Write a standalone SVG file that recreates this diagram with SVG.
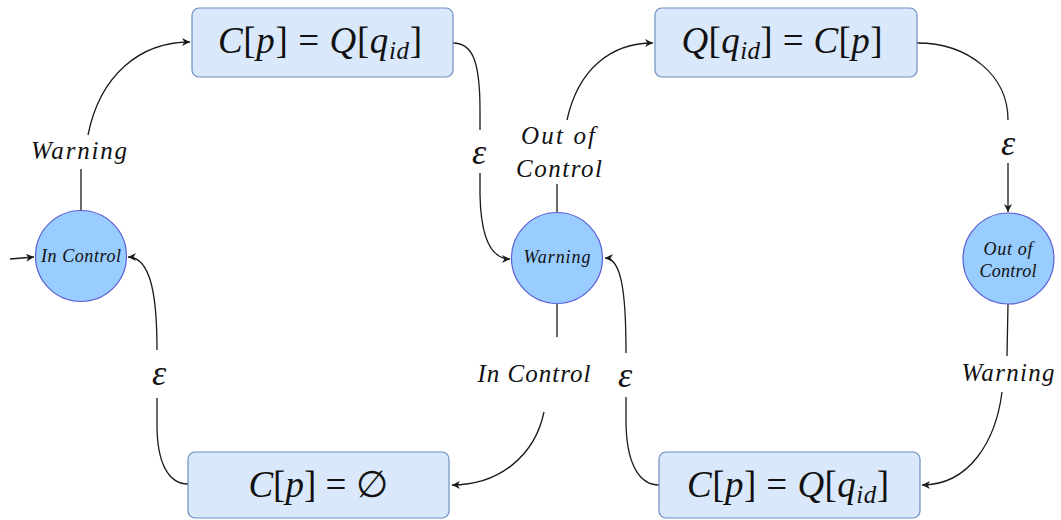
<svg xmlns="http://www.w3.org/2000/svg" width="1061" height="520" viewBox="0 0 1061 520">
<style>
.box{fill:#dae8fc;stroke:#6c8ebf;stroke-width:1.2}
.st{fill:#99ccff;stroke:#5b5fd6;stroke-width:1.2}
.edge{fill:none;stroke:#1a1a1a;stroke-width:1.3;marker-end:url(#arr)}
text{font-family:"Liberation Serif","Times New Roman",Times,serif;fill:#111;text-anchor:middle}
.it{font-style:italic}
.bx{font-size:37px}
.lb{font-size:25px;font-style:italic}
.ep{font-size:36px;font-style:italic}
.sl{font-size:18px;font-style:italic}
</style>
<defs>
<marker id="arr" viewBox="0 0 10 10" refX="10" refY="5" markerWidth="9" markerHeight="8" markerUnits="userSpaceOnUse" orient="auto">
<path d="M0,0 L10,5 L0,10 L3,5 Z" fill="#1a1a1a"/>
</marker>
</defs>
<g id="connectors">
<path class="edge" d="M10,259 L34,257"/>
<path class="edge" d="M81,211 L81,169 M88,135 C100,75 140,42 190,42"/>
<path class="edge" d="M453,43 C472,43 480,60 480,110 L480,130 M480,173 L480,195 C481,240 492,259 510,259"/>
<path class="edge" d="M557,213 L557,184 M567,120 C578,70 610,43 653,43"/>
<path class="edge" d="M917,43 C968,43 1008,75 1008,120 M1008,163 L1008,212"/>
<path class="edge" d="M1008,304 L1007,356 M1002,392 C996,440 970,485 922,485"/>
<path class="edge" d="M557,303 L557,337 M544,412 C535,455 500,485 452,485"/>
<path class="edge" d="M659,485 C640,485 626,465 626,420 L626,397 M626,353 C626,295 622,258 605,258"/>
<path class="edge" d="M188,484 C168,484 157,462 157,425 L157,398 M157,350 C157,300 152,257 128,257"/>
</g>
<g id="edge-labels">
<text class="lb" x="79" y="159" textLength="96" lengthAdjust="spacing">Warning</text>
<text class="ep" x="479" y="164">ε</text>
<text class="lb" x="558" y="144" textLength="74" lengthAdjust="spacing">Out of</text>
<text class="lb" x="559" y="177" textLength="86" lengthAdjust="spacing">Control</text>
<text class="ep" x="1008" y="155">ε</text>
<text class="lb" x="1008" y="381" textLength="93" lengthAdjust="spacing">Warning</text>
<text class="lb" x="534" y="382" textLength="113" lengthAdjust="spacing">In Control</text>
<text class="ep" x="625" y="387">ε</text>
<text class="ep" x="159" y="385">ε</text>
</g>
<g id="node-box1">
<rect class="box" x="192" y="8" width="261" height="69" rx="7"/>
<text class="bx" x="320" y="53" textLength="204" lengthAdjust="spacing"><tspan class="it">C</tspan>[<tspan class="it">p</tspan>] = <tspan class="it">Q</tspan>[<tspan class="it">q</tspan><tspan class="it" font-size="25" dy="6">id</tspan><tspan dy="-6">]</tspan></text>
</g>
<g id="node-box2">
<rect class="box" x="655" y="8" width="262" height="69" rx="7"/>
<text class="bx" x="782" y="53" textLength="201" lengthAdjust="spacing"><tspan class="it">Q</tspan>[<tspan class="it">q</tspan><tspan class="it" font-size="25" dy="6">id</tspan><tspan dy="-6">] = </tspan><tspan class="it">C</tspan>[<tspan class="it">p</tspan>]</text>
</g>
<g id="node-box3">
<rect class="box" x="188" y="452" width="261" height="66" rx="7"/>
<text class="bx" x="318" y="497"><tspan class="it">C</tspan>[<tspan class="it">p</tspan>] = ∅</text>
</g>
<g id="node-box4">
<rect class="box" x="659" y="452" width="261" height="66" rx="7"/>
<text class="bx" x="788" y="497" textLength="202" lengthAdjust="spacing"><tspan class="it">C</tspan>[<tspan class="it">p</tspan>] = <tspan class="it">Q</tspan>[<tspan class="it">q</tspan><tspan class="it" font-size="25" dy="6">id</tspan><tspan dy="-6">]</tspan></text>
</g>
<g id="node-incontrol">
<circle class="st" cx="81" cy="256" r="45.5"/>
<text class="sl" x="81" y="262" textLength="80" lengthAdjust="spacing">In Control</text>
</g>
<g id="node-warning">
<circle class="st" cx="557" cy="258" r="45.5"/>
<text class="sl" x="557" y="263" textLength="67" lengthAdjust="spacing">Warning</text>
</g>
<g id="node-outofcontrol">
<circle class="st" cx="1008.5" cy="258.5" r="45.5"/>
<text class="sl" x="1008" y="255" textLength="49" lengthAdjust="spacing">Out of</text>
<text class="sl" x="1008" y="277" textLength="57" lengthAdjust="spacing">Control</text>
</g>
</svg>
